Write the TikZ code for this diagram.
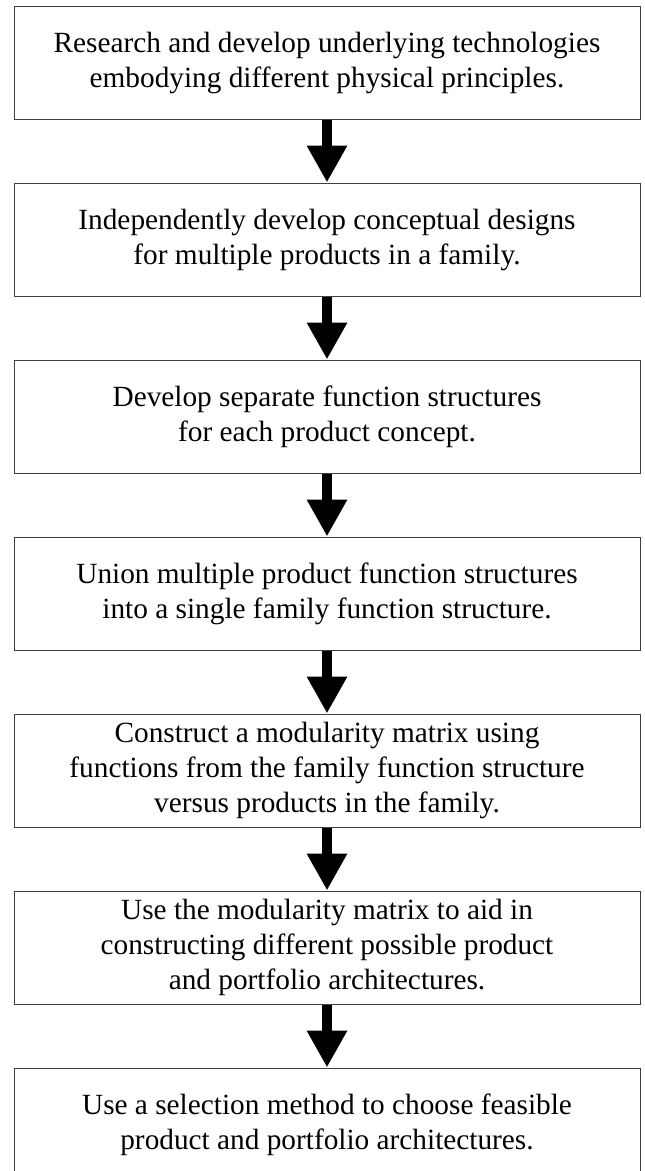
\documentclass[tikz,border=0pt]{standalone}
\usepackage{fontspec}
\setmainfont{Liberation Serif}
\usepackage{tikz}
\usetikzlibrary{positioning,arrows.meta}

\begin{document}
\begin{tikzpicture}[x=1pt,y=1pt,node distance=63pt,
   stage/.style={draw=black!75,line width=1pt,minimum width=626pt,minimum height=113pt,
     inner sep=0pt,align=center,font=\fontsize{29.3pt}{35pt}\selectfont},
   flow/.style={line width=10pt,-{Triangle[width=38pt,length=37pt]}}]
   \useasboundingbox (0,0) rectangle (645,-1171);
   \clip (0,0) rectangle (645,-1171);
   \node[stage] (s_1) at (327,-62.5) {Research and develop underlying technologies\\embodying different physical principles.};
   \node[stage] (s_2) [below=of s_1] {Independently develop conceptual designs\\for multiple products in a family.};
   \node[stage] (s_3) [below=of s_2] {Develop separate function structures\\for each product concept.};
   \node[stage] (s_4) [below=of s_3] {Union multiple product function structures\\into a single family function structure.};
   \node[stage] (s_5) [below=of s_4] {Construct a modularity matrix using\\functions from the family function structure\\versus products in the family.};
   \node[stage] (s_6) [below=of s_5] {Use the modularity matrix to aid in\\constructing different possible product\\and portfolio architectures.};
   \node[stage] (s_7) [below=of s_6] {Use a selection method to choose feasible\\product and portfolio architectures.};
    \path[flow]
    (s_1) edge (s_2)
    (s_2) edge (s_3)
    (s_3) edge (s_4)
    (s_4) edge (s_5)
    (s_5) edge (s_6)
    (s_6) edge (s_7);
\end{tikzpicture}
\end{document}
